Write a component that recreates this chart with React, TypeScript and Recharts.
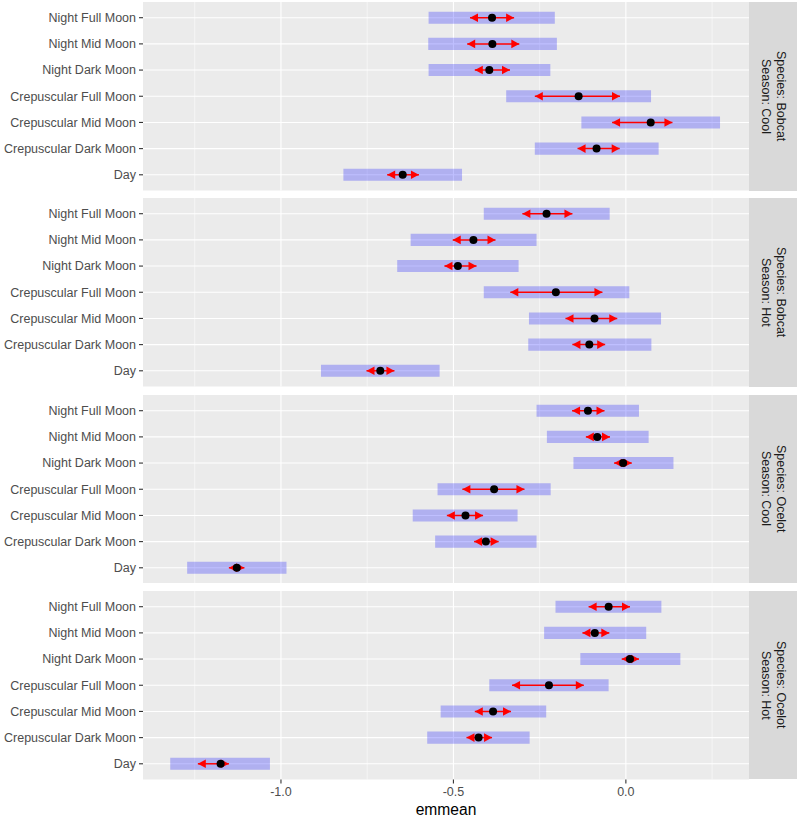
import React from 'react';
import {
  ScatterChart,
  Scatter,
  XAxis,
  YAxis,
  CartesianGrid,
  ReferenceArea,
  ReferenceLine,
} from 'recharts';

// row order, top to bottom
const rowLabels = [
  'Night Full Moon',
  'Night Mid Moon',
  'Night Dark Moon',
  'Crepuscular Full Moon',
  'Crepuscular Mid Moon',
  'Crepuscular Dark Moon',
  'Day',
];

const xTicks = [-1.0, -0.5, 0.0];
const xMinorTicks = [-1.25, -0.75, -0.25, 0.25];

// Species: Bobcat, Season: Cool
const bobcatCoolEmmean = [-0.388, -0.387, -0.396, -0.137, 0.072, -0.085, -0.647];
const bobcatCoolLcl = [-0.572, -0.573, -0.572, -0.347, -0.129, -0.264, -0.819];
const bobcatCoolUcl = [-0.206, -0.2, -0.219, 0.073, 0.273, 0.095, -0.475];
const bobcatCoolLcmp = [-0.452, -0.46, -0.438, -0.264, -0.04, -0.14, -0.692];
const bobcatCoolUcmp = [-0.324, -0.309, -0.336, -0.017, 0.135, -0.018, -0.6];

// Species: Bobcat, Season: Hot
const bobcatHotEmmean = [-0.23, -0.442, -0.487, -0.203, -0.091, -0.106, -0.712];
const bobcatHotLcl = [-0.412, -0.624, -0.663, -0.412, -0.281, -0.283, -0.884];
const bobcatHotUcl = [-0.047, -0.259, -0.311, 0.01, 0.102, 0.074, -0.54];
const bobcatHotLcmp = [-0.3, -0.502, -0.526, -0.335, -0.175, -0.155, -0.752];
const bobcatHotUcmp = [-0.155, -0.378, -0.433, -0.068, -0.025, -0.06, -0.671];

// Species: Ocelot, Season: Cool
const ocelotCoolEmmean = [-0.11, -0.083, -0.008, -0.382, -0.465, -0.406, -1.128];
const ocelotCoolLcl = [-0.259, -0.229, -0.152, -0.546, -0.618, -0.553, -1.272];
const ocelotCoolUcl = [0.038, 0.066, 0.138, -0.218, -0.314, -0.259, -0.984];
const ocelotCoolLcmp = [-0.156, -0.116, -0.034, -0.474, -0.519, -0.44, -1.151];
const ocelotCoolUcmp = [-0.062, -0.046, 0.017, -0.294, -0.414, -0.369, -1.106];

// Species: Ocelot, Season: Hot
const ocelotHotEmmean = [-0.05, -0.09, 0.012, -0.223, -0.385, -0.427, -1.175];
const ocelotHotLcl = [-0.204, -0.237, -0.132, -0.396, -0.537, -0.576, -1.321];
const ocelotHotUcl = [0.103, 0.059, 0.158, -0.05, -0.231, -0.279, -1.032];
const ocelotHotLcmp = [-0.108, -0.126, -0.012, -0.33, -0.438, -0.462, -1.241];
const ocelotHotUcmp = [0.012, -0.048, 0.038, -0.122, -0.333, -0.388, -1.151];

interface Facet {
  strip: string[];
  emmean: number[];
  lcl: number[];
  ucl: number[];
  lcmp: number[];
  ucmp: number[];
}

const facets: Facet[] = [
  { strip: ['Species: Bobcat', 'Season: Cool'], emmean: bobcatCoolEmmean, lcl: bobcatCoolLcl, ucl: bobcatCoolUcl, lcmp: bobcatCoolLcmp, ucmp: bobcatCoolUcmp },
  { strip: ['Species: Bobcat', 'Season: Hot'], emmean: bobcatHotEmmean, lcl: bobcatHotLcl, ucl: bobcatHotUcl, lcmp: bobcatHotLcmp, ucmp: bobcatHotUcmp },
  { strip: ['Species: Ocelot', 'Season: Cool'], emmean: ocelotCoolEmmean, lcl: ocelotCoolLcl, ucl: ocelotCoolUcl, lcmp: ocelotCoolLcmp, ucmp: ocelotCoolUcmp },
  { strip: ['Species: Ocelot', 'Season: Hot'], emmean: ocelotHotEmmean, lcl: ocelotHotLcl, ucl: ocelotHotUcl, lcmp: ocelotHotLcmp, ucmp: ocelotHotUcmp },
];

const N = rowLabels.length;
const rowTicks = rowLabels.map((_, i) => i + 1);
const PANEL_TOP = 2;
const PANEL_STEP = 196.3;
const PANEL_H = 188.5;
const AXIS_H = 25;
const BAR_HALF = 0.23;
const FONT = '"Liberation Sans", Arial, Helvetica, sans-serif';

const LeftHead = (props: any) => {
  const { cx, cy } = props;
  return <polygon points={`${cx},${cy} ${cx + 8},${cy - 4.3} ${cx + 8},${cy + 4.3}`} fill="#ff0000" />;
};

const RightHead = (props: any) => {
  const { cx, cy } = props;
  return <polygon points={`${cx},${cy} ${cx - 8},${cy - 4.3} ${cx - 8},${cy + 4.3}`} fill="#ff0000" />;
};

const Dot = (props: any) => {
  const { cx, cy } = props;
  return <circle cx={cx} cy={cy} r={4} fill="#000000" />;
};

// plain text tick so long labels are not wrapped
const RowTick = (props: any) => {
  const { x, y, payload } = props;
  return (
    <text x={x} y={y} dy="0.35em" textAnchor="end" fill="#4d4d4d" fontSize={12.5}>
      {rowLabels[N - payload.value]}
    </text>
  );
};

const toPoints = (vals: number[]) => vals.map((v, i) => ({ x: v, y: N - i }));

const FacetPanel: React.FC<{ facet: Facet; showAxis: boolean }> = ({ facet, showAxis }) => {
  return (
    <ScatterChart
      width={800}
      height={showAxis ? PANEL_H + AXIS_H : PANEL_H}
      margin={{ top: 0, right: 51, bottom: 0, left: 0 }}
    >
      <CartesianGrid
        fill="#ebebeb"
        stroke="#ffffff"
        strokeWidth={1.1}
        syncWithTicks
        horizontalValues={rowTicks}
        verticalValues={xTicks}
      />
      <CartesianGrid stroke="#ffffff" strokeWidth={0.55} syncWithTicks horizontal={false} verticalValues={xMinorTicks} />
      <XAxis
        type="number"
        dataKey="x"
        domain={[-1.4, 0.357]}
        allowDataOverflow
        ticks={xTicks}
        interval={0}
        hide={!showAxis}
        height={AXIS_H}
        axisLine={false}
        tickSize={4}
        tickMargin={4}
        tickLine={{ stroke: '#333333', strokeWidth: 1.1 }}
        tick={{ fill: '#4d4d4d', fontSize: 12.5 }}
        tickFormatter={(v: number) => v.toFixed(1)}
      />
      <YAxis
        type="number"
        dataKey="y"
        domain={[0.4, N + 0.6]}
        allowDataOverflow
        ticks={rowTicks}
        interval={0}
        width={143}
        axisLine={false}
        tickSize={4}
        tickMargin={3}
        tickLine={{ stroke: '#333333', strokeWidth: 1.1 }}
        tick={RowTick}
      />
      {facet.lcl.map((lo, i) => (
        <ReferenceArea
          key={`ci-${i}`}
          x1={lo}
          x2={facet.ucl[i]}
          y1={N - i - BAR_HALF}
          y2={N - i + BAR_HALF}
          fill="#0000ff"
          fillOpacity={0.25}
          stroke="none"
        />
      ))}
      {facet.lcmp.map((lo, i) => (
        <ReferenceLine
          key={`cmp-${i}`}
          segment={[
            { x: lo, y: N - i },
            { x: facet.ucmp[i], y: N - i },
          ]}
          stroke="#ff0000"
          strokeWidth={1.5}
        />
      ))}
      <Scatter data={toPoints(facet.lcmp)} shape={LeftHead} isAnimationActive={false} />
      <Scatter data={toPoints(facet.ucmp)} shape={RightHead} isAnimationActive={false} />
      <Scatter data={toPoints(facet.emmean)} shape={Dot} isAnimationActive={false} />
    </ScatterChart>
  );
};

const App: React.FC = () => {
  return (
    <div
      style={{
        position: 'absolute',
        left: 0,
        top: 0,
        width: 800,
        height: 817,
        background: '#ffffff',
        fontFamily: FONT,
      }}
    >
      {facets.map((facet, k) => {
        const top = PANEL_TOP + k * PANEL_STEP;
        return (
          <React.Fragment key={k}>
            <div style={{ position: 'absolute', left: 0, top }}>
              <FacetPanel facet={facet} showAxis={k === facets.length - 1} />
            </div>
            <div
              style={{
                position: 'absolute',
                left: 749,
                top,
                width: 48,
                height: PANEL_H,
                background: '#d9d9d9',
                display: 'flex',
                alignItems: 'center',
                justifyContent: 'center',
              }}
            >
              <div
                style={{
                  writingMode: 'vertical-rl',
                  fontSize: 12.5,
                  lineHeight: '15px',
                  color: '#1a1a1a',
                  textAlign: 'center',
                }}
              >
                {facet.strip[0]}
                <br />
                {facet.strip[1]}
              </div>
            </div>
          </React.Fragment>
        );
      })}
      <div
        style={{
          position: 'absolute',
          left: 143,
          top: 800,
          width: 606,
          textAlign: 'center',
          fontSize: 15.6,
          lineHeight: '20px',
          color: '#000000',
        }}
      >
        emmean
      </div>
    </div>
  );
};

export default App;
